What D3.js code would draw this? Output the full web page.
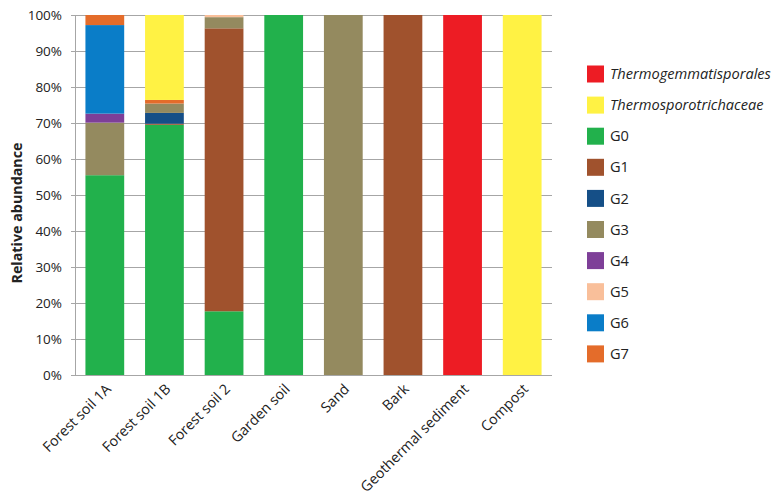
<!DOCTYPE html>
<html><head><meta charset="utf-8">
<script src="https://cdn.jsdelivr.net/npm/d3@7"></script>
<style>body{margin:0;background:#fff}svg{display:block}text{font-family:"Open Sans","Liberation Sans",sans-serif}</style>
</head><body><svg id="c" width="783" height="500"></svg>
<script>
const categories = ["Forest soil 1A","Forest soil 1B","Forest soil 2","Garden soil","Sand","Bark","Geothermal sediment","Compost"];
const seriesNames = ["G0","G1","G2","G3","G4","G5","G6","G7","Thermosporotrichaceae","Thermogemmatisporales"];
const legendOrder = ["Thermogemmatisporales","Thermosporotrichaceae","G0","G1","G2","G3","G4","G5","G6","G7"];
const italicNames = ["Thermogemmatisporales","Thermosporotrichaceae"];
const colors = ["#22b14c","#a0522d","#154f87","#948a5f","#7e3f98","#f9bf9a","#0a7dc8","#e46c2a","#fff244","#ed1c24"];
// values per series, one per category (%)
const G0 = [55.5,69.5,17.7,100,0,0,0,0];
const G1 = [0,0.3,78.6,0,0,100,0,0];
const G2 = [0,3.0,0,0,0,0,0,0];
const G3 = [14.6,2.6,3.1,0,100,0,0,0];
const G4 = [2.5,0,0,0,0,0,0,0];
const G5 = [0,0,0.6,0,0,0,0,0];
const G6 = [24.6,0,0,0,0,0,0,0];
const G7 = [2.8,1.0,0,0,0,0,0,0];
const Thermosporotrichaceae = [0,23.6,0,0,0,0,0,100];
const Thermogemmatisporales = [0,0,0,0,0,0,100,0];
const yTicks = [0,10,20,30,40,50,60,70,80,90,100];

const seriesVals = [G0,G1,G2,G3,G4,G5,G6,G7,Thermosporotrichaceae,Thermogemmatisporales];
const table = categories.map((c,i)=>{const o={cat:c};seriesNames.forEach((s,j)=>o[s]=seriesVals[j][i]);return o;});
const color = d3.scaleOrdinal().domain(seriesNames).range(colors);

const svg = d3.select("#c");
const m = {l:75, r:552, t:15, b:375};
const x = d3.scaleBand().domain(categories).range([m.l,m.r]).paddingInner(0.35).paddingOuter(0.175);
const y = d3.scaleLinear().domain([0,100]).range([m.b,m.t]);

// grid
svg.append("g").selectAll("line").data(yTicks).join("line")
  .attr("x1",m.l-4).attr("x2",m.r).attr("y1",d=>y(d)).attr("y2",d=>y(d))
  .attr("stroke","#a6a6a6").attr("stroke-width",1).attr("shape-rendering","crispEdges");
svg.append("line").attr("x1",m.l).attr("x2",m.l).attr("y1",m.t).attr("y2",m.b)
  .attr("stroke","#a6a6a6").attr("shape-rendering","crispEdges");

const stack = d3.stack().keys(seriesNames)(table);
svg.append("g").selectAll("g").data(stack).join("g").attr("fill",d=>color(d.key))
  .selectAll("rect").data(d=>d).join("rect")
  .attr("x",d=>x(d.data.cat)).attr("width",x.bandwidth())
  .attr("y",d=>y(d[1])).attr("height",d=>Math.max(0,y(d[0])-y(d[1])));

// bottom axis line on top
svg.append("line").attr("x1",m.l).attr("x2",m.r).attr("y1",m.b).attr("y2",m.b)
  .attr("stroke","#a6a6a6").attr("shape-rendering","crispEdges");

// y labels
svg.append("g").selectAll("text").data(yTicks).join("text")
  .attr("x",m.l-13).attr("y",d=>y(d)).attr("dy","0.35em").attr("text-anchor","end")
  .attr("font-size",13.5).attr("fill","#222").text(d=>d+"%");

svg.append("text").attr("transform",`translate(22,213) rotate(-90)`)
  .attr("text-anchor","middle").attr("font-size",14.3).attr("font-weight","bold").attr("fill","#222")
  .text("Relative abundance");

// x labels
svg.append("g").selectAll("text").data(categories).join("text")
  .attr("transform",d=>`translate(${x(d)+x.bandwidth()/2+7},${m.b+15}) rotate(-45)`)
  .attr("text-anchor","end").attr("font-size",14.3).attr("fill","#222").text(d=>d);

// legend
const lg = svg.append("g").selectAll("g").data(legendOrder).join("g")
  .attr("transform",(d,i)=>`translate(587,${74+i*31.1})`);
lg.append("rect").attr("x",0).attr("y",-8.5).attr("width",17).attr("height",17).attr("fill",d=>color(d));
lg.append("text").attr("x",23).attr("y",0).attr("dy","0.35em").attr("font-size",14.6).attr("fill","#222")
  .attr("font-style",d=>italicNames.includes(d)?"italic":"normal").text(d=>d);
</script></body></html>
